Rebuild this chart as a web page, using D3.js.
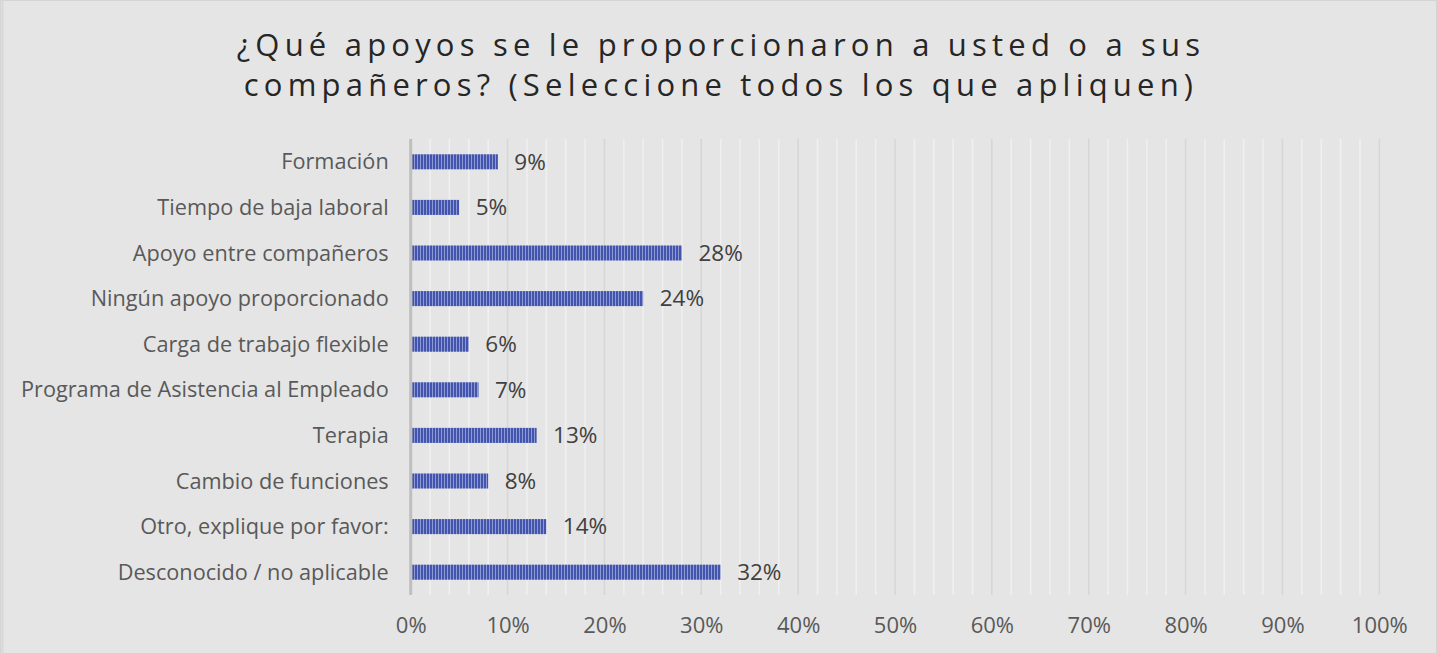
<!DOCTYPE html>
<html><head><meta charset="utf-8">
<script src="https://cdn.jsdelivr.net/npm/d3@7"></script>
<style>
html,body{margin:0;padding:0;background:#e5e5e5;}
svg{display:block;}
</style></head>
<body>
<svg id="chart" width="1437" height="654"></svg>
<script>
const categories = ["Formación","Tiempo de baja laboral","Apoyo entre compañeros","Ningún apoyo proporcionado","Carga de trabajo flexible","Programa de Asistencia al Empleado","Terapia","Cambio de funciones","Otro, explique por favor:","Desconocido / no aplicable"];
const values = [9,5,28,24,6,7,13,8,14,32];
const tickValues = [0,10,20,30,40,50,60,70,80,90,100];
const titleLines = ["¿Qué apoyos se le proporcionaron a usted o a sus","compañeros? (Seleccione todos los que apliquen)"];

(function(){
const W = 1437, H = 654;
const svg = d3.select("#chart");
const font = "'Open Sans', sans-serif";

svg.append("rect").attr("x",0.5).attr("y",0.5).attr("width",W-1).attr("height",H-1)
  .attr("fill","#e5e5e5").attr("stroke","#d4d4d4").attr("stroke-width",1);
svg.append("line").attr("x1",2.5).attr("x2",2.5).attr("y1",0).attr("y2",H).attr("stroke","#d8d8d8").attr("stroke-width",2);

const defs = svg.append("defs");
const pat = defs.append("pattern").attr("id","stripes").attr("patternUnits","userSpaceOnUse")
  .attr("width",3).attr("height",10).attr("x",412);
pat.append("rect").attr("width",3).attr("height",10).attr("fill","#8d9ad4");
pat.append("rect").attr("width",2).attr("height",10).attr("fill","#4354ac");

const x0 = 410.7, x1 = 1379.3;
const yTop = 139, yBottom = 595;
const x = d3.scaleLinear().domain([0,100]).range([x0,x1]);
const y = d3.scaleBand().domain(categories).range([yTop,yBottom]).paddingInner(0.67).paddingOuter(0.335);

const minor = d3.range(0,101,2).filter(v => v % 10 !== 0);
svg.append("g").selectAll("line").data(minor).join("line")
  .attr("x1",d=>x(d)).attr("x2",d=>x(d)).attr("y1",yTop).attr("y2",yBottom)
  .attr("stroke","#f0f0f0").attr("stroke-width",1.5);
svg.append("g").selectAll("line").data(tickValues.slice(1)).join("line")
  .attr("x1",d=>x(d)).attr("x2",d=>x(d)).attr("y1",yTop).attr("y2",yBottom)
  .attr("stroke","#d6d6d6").attr("stroke-width",1.5);

const xAxis = d3.axisBottom(x).tickValues(tickValues).tickFormat(d=>d+"%").tickSize(0).tickPadding(0);
const gx = svg.append("g").attr("transform",`translate(0,${yBottom+38})`).call(xAxis);
gx.select(".domain").remove();
gx.selectAll("text").attr("font-family",font).attr("font-size",22).attr("fill","#595959").attr("dy","0");

const yAxis = d3.axisLeft(y).tickSize(0).tickPadding(0);
const gy = svg.append("g").attr("transform",`translate(${x0-22},0)`).call(yAxis);
gy.select(".domain").remove();
gy.selectAll("text").attr("font-family",font).attr("font-size",21.7).attr("fill","#595959").attr("dy","0.35em");

svg.append("g").selectAll("rect").data(values).join("rect")
  .attr("x",x(0)+1.5).attr("y",(d,i)=>y(categories[i]))
  .attr("width",d=>x(d)-x(0)-1.5).attr("height",y.bandwidth())
  .attr("fill","url(#stripes)");

svg.append("line").attr("x1",x0).attr("x2",x0).attr("y1",yTop).attr("y2",yBottom)
  .attr("stroke","#bfbfbf").attr("stroke-width",3);

svg.append("g").selectAll("text").data(values).join("text")
  .attr("x",d=>x(d)+16.5).attr("y",(d,i)=>y(categories[i])+y.bandwidth()/2)
  .attr("dy","0.35em").attr("font-family",font).attr("font-size",22.5).attr("fill","#404040")
  .text(d=>d+"%");

svg.append("g").selectAll("text").data(titleLines).join("text")
  .attr("x",721).attr("y",(d,i)=>56+i*40).attr("text-anchor","middle")
  .attr("font-family",font).attr("font-size",31).attr("letter-spacing","5.2px").attr("fill","#262626")
  .text(d=>d);
})();
</script>
</body></html>
